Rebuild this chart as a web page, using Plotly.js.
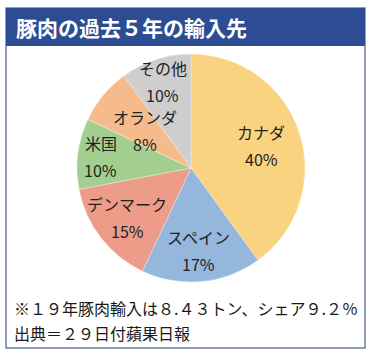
<!DOCTYPE html>
<html>
<head>
<meta charset="utf-8">
<script src="https://cdn.plot.ly/plotly-3.0.1.min.js"></script>
<style>
html,body{margin:0;padding:0;background:#fff;}
#chart{width:372px;height:357px;}
</style>
</head>
<body>
<div id="chart"></div>
<script>
const categories = ["カナダ", "スペイン", "デンマーク", "米国", "オランダ", "その他"];
const shares = [40, 17, 15, 10, 8, 10];
const sliceColors = ["#F9D37F", "#95B7DB", "#EC9C89", "#A2CF8F", "#F5BB8C", "#CECECE"];
const titleText = "豚肉の過去５年の輸入先";
const noteLines = ["※１９年豚肉輸入は８.４３トン、シェア９.２％", "出典＝２９日付蘋果日報"];

// label placement (fraction of radius from pie centre, like the reference's data labels)
const labelRadius = [0.65, 0.73, 0.71, 0.80, 0.52, 0.80];

const W = 372, H = 357;
const CX = 191, CY = 168, R = 114;
const px = v => v / W;
const py = v => 1 - v / H;
const font = '"Noto Sans CJK JP", "Noto Sans", sans-serif';

const data = [{
  type: "pie",
  labels: categories,
  values: shares,
  sort: false,
  direction: "clockwise",
  rotation: 0,
  marker: {colors: sliceColors, line: {color: "#ffffff", width: 0.3}},
  textinfo: "none",
  hoverinfo: "none",
  domain: {x: [px(CX - R), px(CX + R)], y: [py(CY + R), py(CY - R)]},
  showlegend: false
}];

// data labels computed from the slice mid-angles
const total = shares.reduce((a, b) => a + b, 0);
const labelAnns = [];
let cum = 0;
shares.forEach((v, i) => {
  const mid = (cum + v / 2) / total * 2 * Math.PI;
  cum += v;
  const r = labelRadius[i] * R;
  const x = px(CX + r * Math.sin(mid));
  const y = py(CY - r * Math.cos(mid));
  const base = {xref: "paper", yref: "paper", x: x, y: y, xanchor: "center", yanchor: "middle",
    showarrow: false, borderpad: 0, font: {family: font, size: 16, color: "#222222"}};
  labelAnns.push(Object.assign({}, base, {text: categories[i], yshift: 13.5}));
  labelAnns.push(Object.assign({}, base, {text: v + "%", yshift: -13.5}));
});

const layout = {
  width: W, height: H,
  margin: {l: 0, r: 0, t: 0, b: 0},
  paper_bgcolor: "#ffffff",
  font: {family: font},
  shapes: [
    {type: "rect", xref: "paper", yref: "paper", x0: px(6), x1: px(365), y0: py(348), y1: py(8),
     line: {color: "#6E7F9E", width: 1.5}, fillcolor: "rgba(0,0,0,0)", layer: "below"},
    {type: "rect", xref: "paper", yref: "paper", x0: px(6), x1: px(365), y0: py(46), y1: py(8),
     line: {width: 0}, fillcolor: "#2C4D94", layer: "below"}
  ],
  annotations: [
    {text: "<b>" + titleText + "</b>", xref: "paper", yref: "paper", x: px(14), y: py(27),
     xanchor: "left", yanchor: "middle", showarrow: false,
     font: {family: font, size: 21, color: "#ffffff"}},
    {text: noteLines[0], xref: "paper", yref: "paper", x: px(12), y: py(308),
     xanchor: "left", yanchor: "middle", showarrow: false,
     font: {family: font, size: 16, color: "#1a1a1a"}},
    {text: noteLines[1], xref: "paper", yref: "paper", x: px(12), y: py(333),
     xanchor: "left", yanchor: "middle", showarrow: false,
     font: {family: font, size: 16, color: "#1a1a1a"}}
  ].concat(labelAnns)
};

Plotly.newPlot("chart", data, layout, {staticPlot: true, displayModeBar: false});
</script>
</body>
</html>
